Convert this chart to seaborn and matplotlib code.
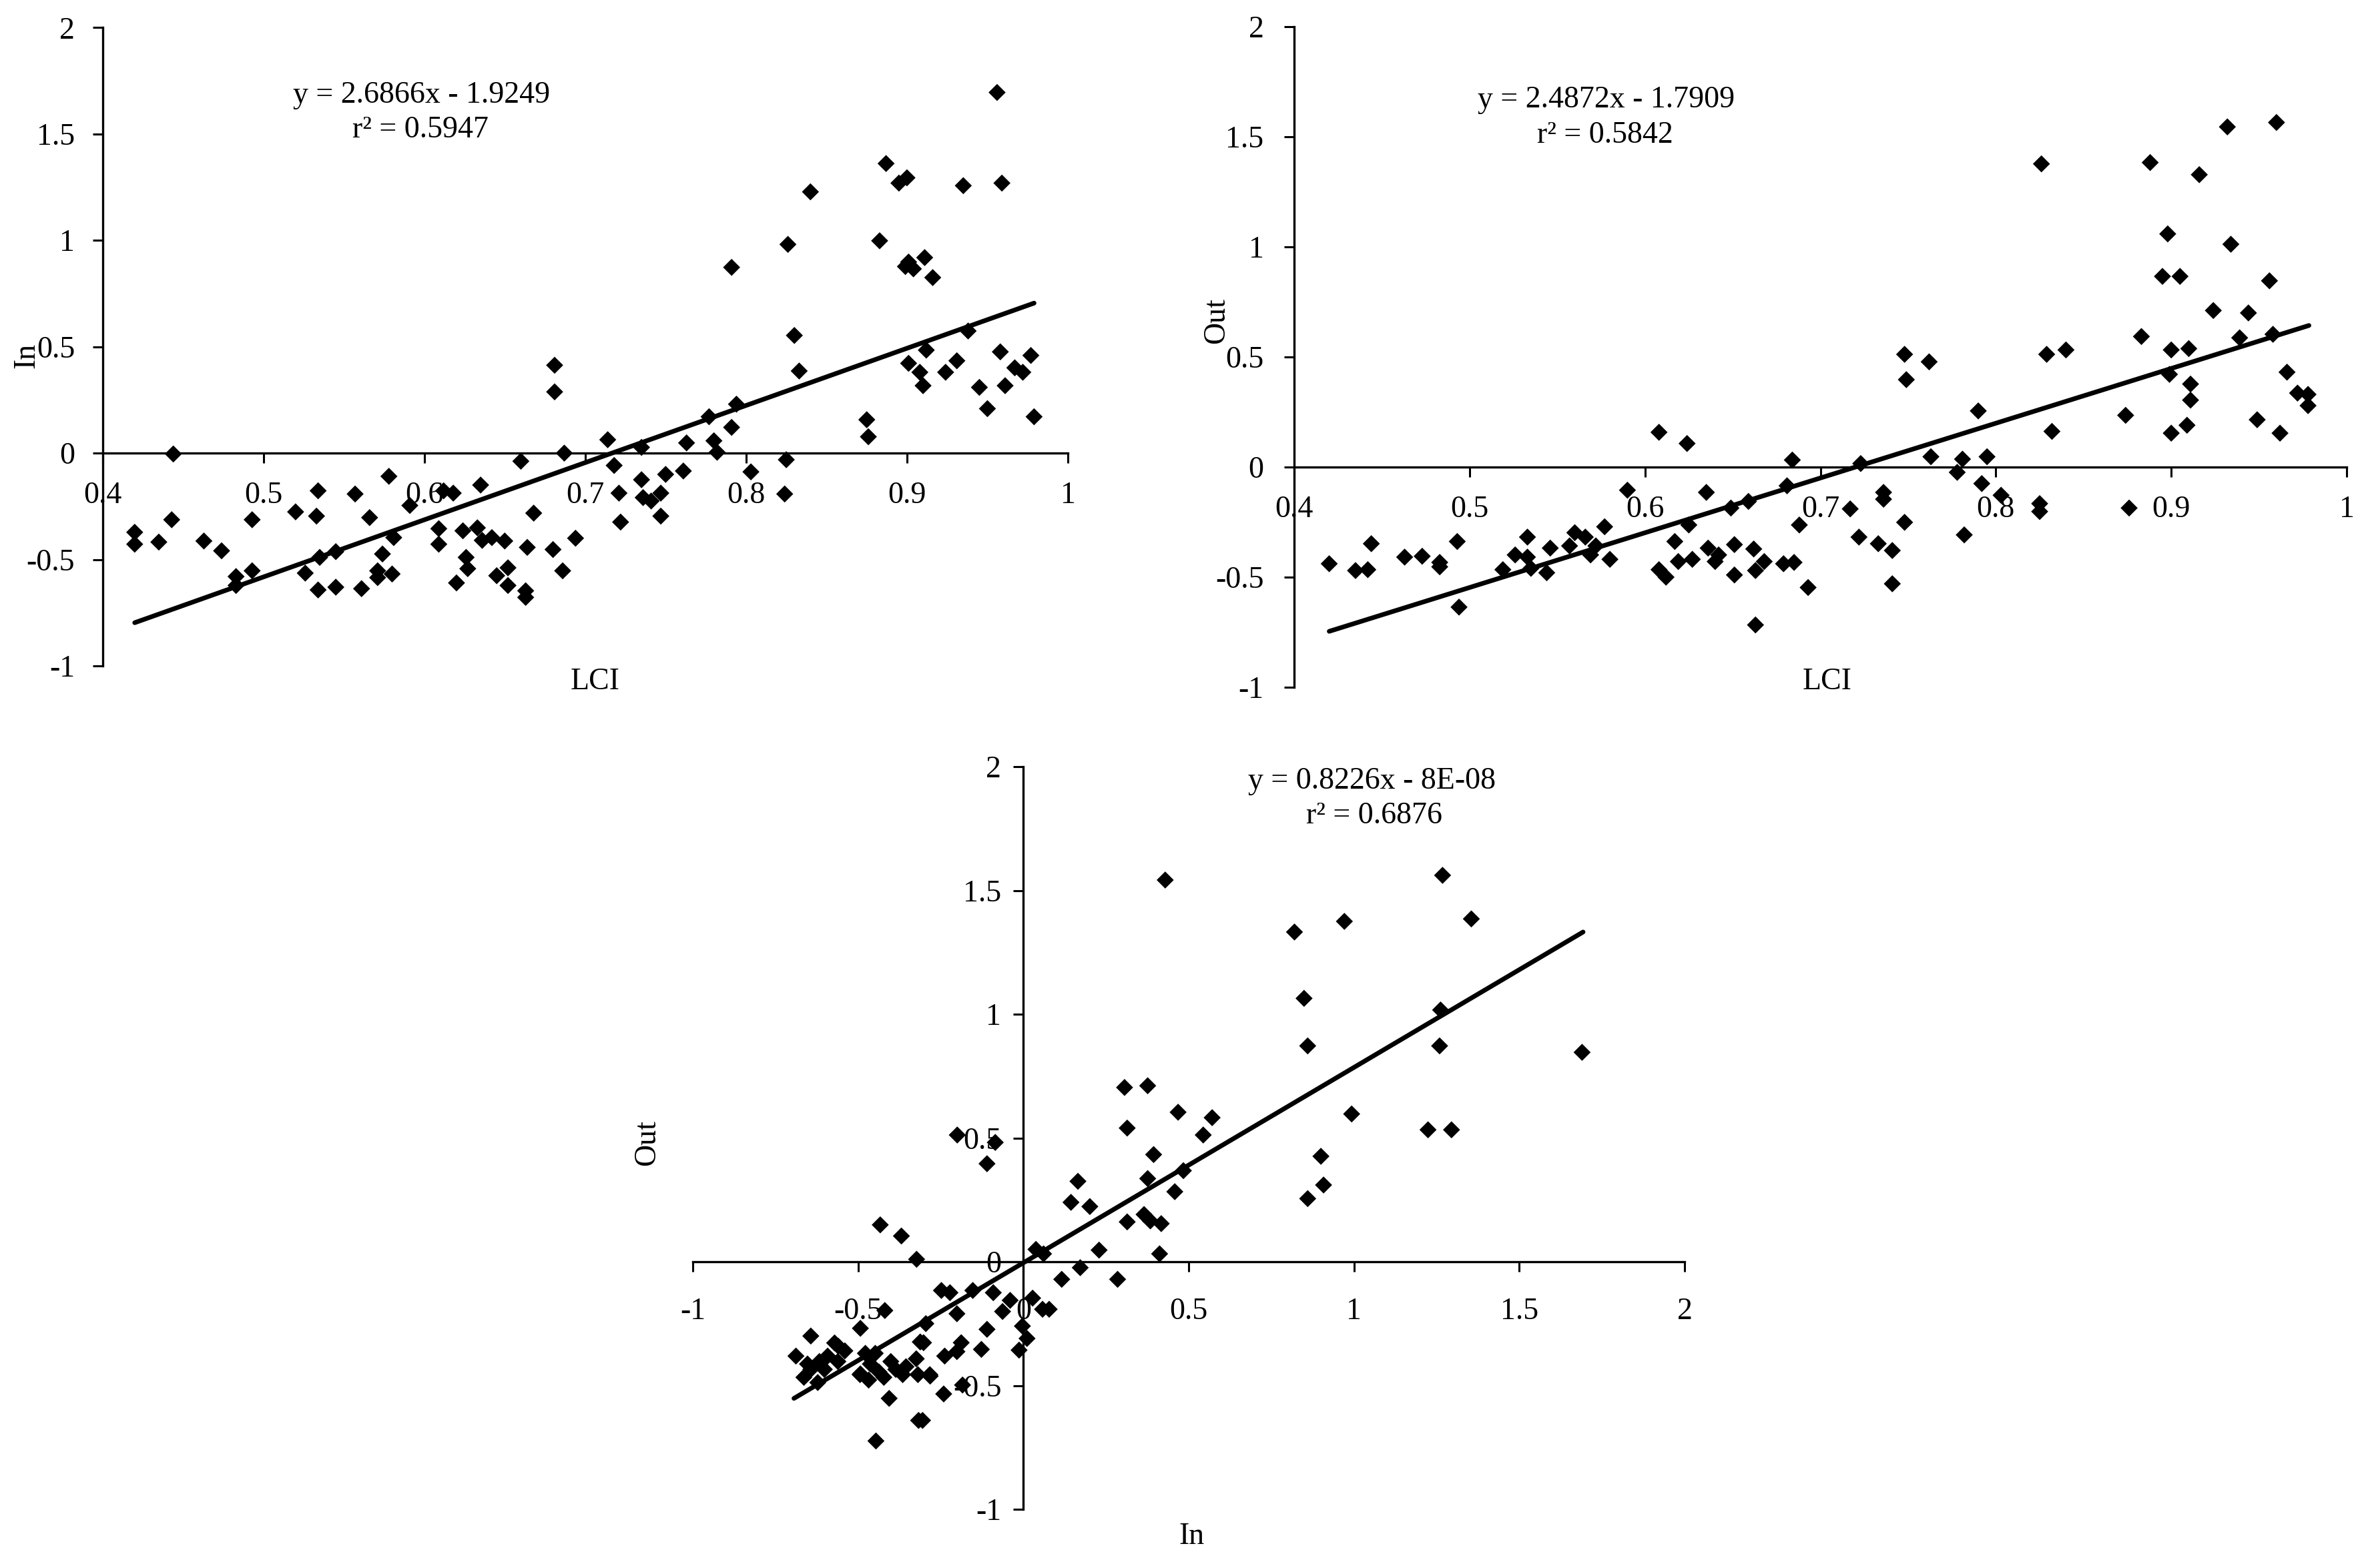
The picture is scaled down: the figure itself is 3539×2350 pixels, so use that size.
import numpy as np
import pandas as pd
import matplotlib
matplotlib.use("Agg")
import matplotlib.pyplot as plt
import seaborn as sns
from matplotlib.ticker import FixedLocator, FixedFormatter

# ---------------- data ----------------
# Panel 1: In vs LCI
lci_in = [0.42, 0.42, 0.435, 0.443, 0.444, 0.463, 0.474, 0.483, 0.483, 0.493, 0.493, 0.52, 0.526,
          0.534, 0.533, 0.535, 0.534, 0.545, 0.545, 0.557, 0.561, 0.566, 0.571, 0.571, 0.574, 0.578,
          0.581, 0.58, 0.591, 0.609, 0.609, 0.612, 0.618, 0.62, 0.624, 0.626, 0.627, 0.633, 0.635,
          0.636, 0.642, 0.645, 0.65, 0.652, 0.652, 0.66, 0.663, 0.663, 0.664, 0.668, 0.68, 0.681,
          0.681, 0.686, 0.687, 0.694,
          0.714, 0.718, 0.721, 0.722, 0.735, 0.735, 0.736, 0.741, 0.747, 0.747, 0.75, 0.761, 0.763,
          0.777, 0.78, 0.782, 0.791, 0.791, 0.794, 0.803, 0.824, 0.825, 0.826, 0.83, 0.833, 0.84,
          0.875, 0.876, 0.883, 0.887, 0.895, 0.9, 0.899, 0.901, 0.904, 0.911, 0.916, 0.901, 0.908,
          0.91, 0.912, 0.924, 0.931, 0.935, 0.938, 0.945, 0.95, 0.956, 0.959, 0.958, 0.961, 0.967,
          0.972, 0.977, 0.979]
in_vals = [-0.372, -0.428, -0.418, -0.313, -0.004, -0.413, -0.459, -0.58, -0.622, -0.313, -0.553,
           -0.276, -0.564, -0.177, -0.296, -0.49, -0.643, -0.463, -0.63, -0.192, -0.637, -0.303,
           -0.553, -0.585, -0.474, -0.109, -0.397, -0.568, -0.246, -0.355, -0.428, -0.177, -0.188,
           -0.61, -0.365, -0.49, -0.543, -0.351, -0.15, -0.41, -0.397, -0.576, -0.413, -0.539,
           -0.622, -0.038, -0.647, -0.678, -0.443, -0.282, -0.453, 0.413, 0.288, -0.553, 0.0, -0.40,
           0.063, -0.058, -0.188, -0.324, 0.027, -0.125, -0.209, -0.225, -0.188, -0.296, -0.1,
           -0.084, 0.048, 0.171, 0.058, 0.004, 0.121, 0.873, 0.23, -0.088, -0.192, -0.031, 0.981,
           0.553, 0.386, 1.228, 0.157, 0.077, 0.998, 1.361, 1.269, 1.294, 0.877, 0.898, 0.866,
           0.919, 0.825, 0.422, 0.38, 0.317, 0.484, 0.38, 0.434, 1.257, 0.574, 0.309, 0.209, 1.695,
           1.269, 0.476, 0.317, 0.401, 0.38, 0.459, 0.171]

# Panel 2: Out vs LCI
lci_out = [0.42, 0.435, 0.442, 0.444, 0.463, 0.473, 0.483, 0.483, 0.493, 0.494, 0.519, 0.526,
           0.533, 0.533, 0.535, 0.544, 0.546, 0.557, 0.56, 0.566, 0.569, 0.572, 0.577, 0.58, 0.59,
           0.608, 0.608, 0.612, 0.617, 0.619, 0.624, 0.625, 0.627, 0.635, 0.636, 0.64, 0.642,
           0.649, 0.651, 0.651, 0.659, 0.662, 0.663, 0.663, 0.668,
           0.679, 0.681, 0.684, 0.685, 0.688, 0.693, 0.717, 0.722, 0.723, 0.733, 0.736, 0.736,
           0.741, 0.741, 0.748, 0.748, 0.749, 0.762, 0.763, 0.778, 0.781, 0.782, 0.79, 0.792,
           0.795, 0.803, 0.825, 0.825, 0.826, 0.829, 0.832, 0.84, 0.874, 0.876, 0.883, 0.888,
           0.895, 0.898, 0.9, 0.899, 0.9, 0.905, 0.91, 0.911, 0.911, 0.909, 0.916, 0.924, 0.932,
           0.934, 0.939, 0.944, 0.949, 0.956, 0.958, 0.96, 0.962, 0.966, 0.972, 0.978, 0.978]
out_vals = [-0.439, -0.47, -0.466, -0.348, -0.409, -0.405, -0.433, -0.453, -0.338, -0.636, -0.466,
            -0.399, -0.318, -0.409, -0.46, -0.48, -0.368, -0.358, -0.298, -0.318, -0.399, -0.358,
            -0.271, -0.419, -0.105, 0.158, -0.466, -0.5, -0.338, -0.429, 0.107, -0.263, -0.419,
            -0.115, -0.368, -0.429, -0.399, -0.186, -0.352, -0.49, -0.156, -0.372, -0.47, -0.717,
            -0.429,
            -0.439, -0.085, 0.032, -0.433, -0.263, -0.547, -0.19, -0.318, 0.016, -0.348, -0.115,
            -0.146, -0.379, -0.53, -0.251, 0.512, 0.397, 0.478, 0.047, -0.024, 0.036, -0.308,
            0.255, -0.075, 0.047, -0.128, -0.166, -0.202, 1.377, 0.512, 0.162, 0.532, 0.235,
            -0.186, 0.593, 1.383, 0.866, 1.059, 0.532, 0.421, 0.154, 0.866, 0.538, 0.377, 0.304,
            0.19, 1.328, 0.711, 1.545, 1.012, 0.587, 0.7, 0.215, 0.846, 0.603, 1.565, 0.154,
            0.431, 0.336, 0.33, 0.279]

# Panel 3: Out vs In
in_x3 = [0.429, 0.306, 0.376, 0.314, 0.468, 0.544, 0.571, 0.394, 0.376, 0.484, 0.458, 0.165,
         0.144, 0.201, 0.314, 0.365, 0.384, 0.417, 0.412, 0.229, 0.116, 0.172, 0.285, 1.268,
         1.355, 0.971, 0.82, 0.849, 0.86, 1.262, 1.259, 1.69, 0.993, 1.224, 1.295, 0.9, 0.908,
         0.86,
         0.038, 0.061, 0.028, 0.058, 0.078, -0.003, 0.011, -0.013, -0.04, -0.063, -0.091, -0.11,
         -0.127, -0.153,
         -0.2, -0.085, -0.11, -0.433, -0.369, -0.323,
         -0.248, -0.222, -0.201, -0.295, -0.188, -0.201, -0.238, -0.302, -0.282, -0.184, -0.241,
         -0.305, -0.419, -0.493, -0.643, -0.688, -0.56, -0.312, -0.406, -0.317, -0.446, -0.493,
         -0.653, -0.664, -0.622, -0.602, -0.571, -0.54, -0.561, -0.494, -0.478, -0.463, -0.448,
         -0.437, -0.422, -0.401, -0.386, -0.365, -0.324, -0.643, -0.617, -0.592, -0.468, -0.355,
         -0.283, -0.319]
out_y3 = [1.542, 0.704, 0.711, 0.54, 0.604, 0.512, 0.582, 0.433, 0.336, 0.368, 0.283, 0.325,
          0.24, 0.223, 0.161, 0.191, 0.165, 0.154, 0.032, 0.047, -0.071, -0.024, -0.071, 1.561,
          1.385, 1.375, 1.332, 1.064, 0.872, 1.017, 0.872, 0.846, 0.597, 0.533, 0.533, 0.426,
          0.31, 0.255,
          0.05, 0.032, -0.147, -0.192, -0.192, -0.26, -0.31, -0.357, -0.156, -0.201, -0.125,
          -0.273, -0.354, -0.116,
          0.512, 0.482, 0.396, 0.149, 0.104, 0.01,
          -0.116, -0.125, -0.21, -0.25, -0.327, -0.363, -0.381, -0.327, -0.462, -0.498, -0.534,
          -0.641, -0.197, -0.269, -0.3, -0.381, -0.341, -0.324, -0.552, -0.641, -0.724, -0.453,
          -0.413, -0.467, -0.488, -0.435, -0.328, -0.36, -0.403, -0.456, -0.37, -0.413, -0.37,
          -0.445, -0.467, -0.403, -0.435, -0.456, -0.392, -0.435, -0.403, -0.381, -0.478, -0.424,
          -0.456, -0.456]

# trend lines as drawn (end points) and their labels
trend_x_ends = [[0.42, 0.979], [0.42, 0.9785], [-0.694, 1.693]]
trend_y_ends = [[-0.797, 0.705], [-0.746, 0.643], [-0.552, 1.332]]
eq_lines = ["y = 2.6866x - 1.9249", "y = 2.4872x - 1.7909", "y = 0.8226x - 8E-08"]
r2_lines = ["r² = 0.5947", "r² = 0.5842", "r² = 0.6876"]

# ticks
lci_ticks = [0.4, 0.5, 0.6, 0.7, 0.8, 0.9, 1.0]
lci_tick_labels = ["0.4", "0.5", "0.6", "0.7", "0.8", "0.9", "1"]
val_ticks = [-1, -0.5, 0, 0.5, 1, 1.5, 2]
val_tick_labels = ["-1", "-0.5", "0", "0.5", "1", "1.5", "2"]

# ---------------- figure ----------------
sns.set_theme(style="white")
plt.rcParams["font.family"] = ["Liberation Serif", "DejaVu Serif"]

W, H = 3539, 2350
FS = 33
fig = plt.figure(figsize=(W / 100, H / 100), dpi=100)
fig.patch.set_facecolor("white")


def box(x0, x1, ytop, ybot):
    return [x0 / W, 1 - ybot / H, (x1 - x0) / W, (ybot - ytop) / H]


def ftext(px, py, s, **kw):
    fig.text(px / W, 1 - py / H, s, ha="center", va="center", fontsize=FS, color="black", **kw)


def style(ax, xt, xl, yt, yl, spine_x, xpad, ypad):
    ax.set_xlim(xt[0], xt[-1])
    ax.set_ylim(yt[0], yt[-1])
    ax.set_facecolor("none")
    ax.grid(False)
    for s in ["top", "right"]:
        ax.spines[s].set_visible(False)
    for s in ["left", "bottom"]:
        ax.spines[s].set_color("black")
        ax.spines[s].set_linewidth(2.4)
    ax.spines["bottom"].set_position(("data", 0))
    ax.spines["left"].set_position(("data", spine_x))
    ax.xaxis.set_major_locator(FixedLocator(xt))
    ax.xaxis.set_major_formatter(FixedFormatter(xl))
    ax.yaxis.set_major_locator(FixedLocator(yt))
    ax.yaxis.set_major_formatter(FixedFormatter(yl))
    ax.tick_params(axis="both", direction="out", length=10.8, width=2.2, colors="black",
                   labelsize=FS, bottom=True, left=True)
    ax.tick_params(axis="x", pad=xpad)
    ax.tick_params(axis="y", pad=ypad)
    ax.set_xlabel("")
    ax.set_ylabel("")


def panel(ax, x, y, k):
    df = pd.DataFrame({"x": x, "y": y})
    sns.scatterplot(data=df, x="x", y="y", ax=ax, marker="D", s=170, color="black",
                    edgecolor="none", linewidth=0, zorder=3, clip_on=False)
    line = pd.DataFrame({"x": trend_x_ends[k], "y": trend_y_ends[k]})
    sns.lineplot(data=line, x="x", y="y", ax=ax, color="black", linewidth=5, zorder=4)


ax1 = fig.add_axes(box(153.6, 1600, 41.3, 998))
panel(ax1, lci_in, in_vals, 0)
style(ax1, lci_ticks, lci_tick_labels, val_ticks, val_tick_labels, 0.4, 20, 19)

ax2 = fig.add_axes(box(1939, 3516, 40, 1030))
panel(ax2, lci_out, out_vals, 1)
style(ax2, lci_ticks, lci_tick_labels, val_ticks, val_tick_labels, 0.4, 20, 22)

ax3 = fig.add_axes(box(1038, 2524, 1149, 2262))
panel(ax3, in_x3, out_y3, 2)
style(ax3, val_ticks, val_tick_labels, val_ticks, val_tick_labels, 0, 28, 13)

# equation labels
ftext(632, 143, eq_lines[0])
ftext(630, 195, r2_lines[0])
ftext(2407, 150, eq_lines[1])
ftext(2405, 203, r2_lines[1])
ftext(2056, 1171, eq_lines[2])
ftext(2059, 1223, r2_lines[2])

# axis titles
ftext(892, 1022, "LCI")
ftext(2738, 1022, "LCI")
ftext(40, 533, "In", rotation=90)
ftext(1823, 481, "Out", rotation=90)
ftext(970, 1713, "Out", rotation=90)
ftext(1785, 2303, "In")

fig.savefig("out.png", dpi=100, facecolor="white")
